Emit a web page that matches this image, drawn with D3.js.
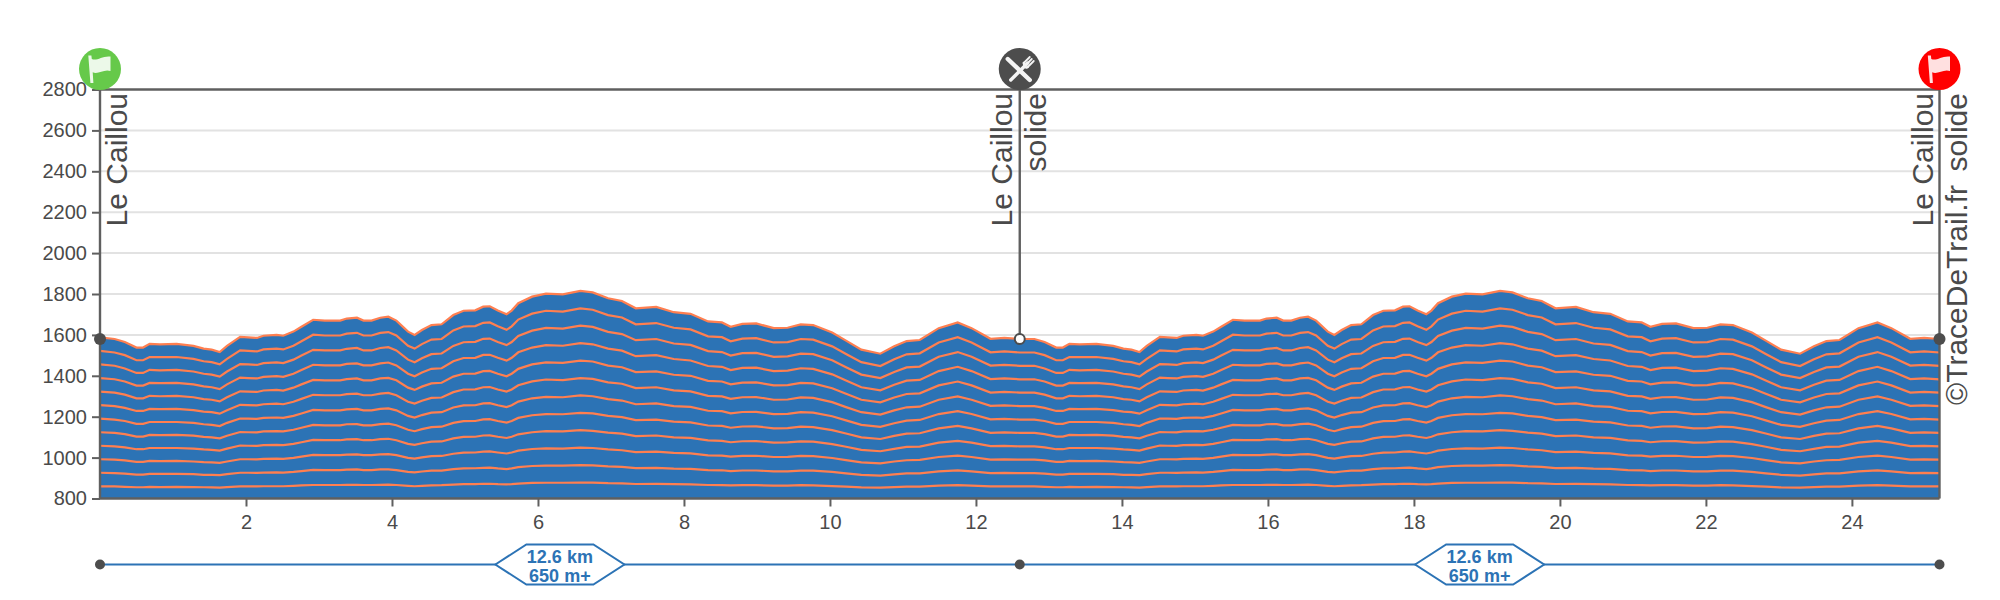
<!DOCTYPE html>
<html><head><meta charset="utf-8">
<script src="https://cdn.jsdelivr.net/npm/d3@7"></script>
<style>html,body{margin:0;padding:0;background:#fff}svg{display:block}text{font-family:"Liberation Sans",Arial,sans-serif}</style>
</head><body><div id="c"></div>
<script>
const lapKm=[0,0.2,0.34,0.5,0.59,0.68,0.82,1.05,1.28,1.42,1.53,1.64,1.74,1.92,2.03,2.15,2.24,2.42,2.51,2.65,2.76,2.92,3.08,3.29,3.38,3.52,3.61,3.72,3.84,3.95,4.06,4.22,4.31,4.41,4.54,4.68,4.84,4.98,5.14,5.25,5.34,5.45,5.57,5.64,5.73,5.92,6.11,6.34,6.58,6.75,6.96,7.15,7.34,7.62,7.86,8.09,8.33,8.52,8.64,8.8,8.99,9.23,9.42,9.6,9.77,10.03,10.22,10.43,10.69,10.88,11.05,11.23,11.49,11.75,11.94,12.2,12.39,12.6];
const elevation=[1588,1580,1565,1538,1538,1556,1554,1556,1546,1533,1528,1516,1546,1590,1588,1585,1596,1600,1596,1616,1640,1674,1670,1670,1680,1684,1670,1670,1684,1689,1670,1616,1600,1624,1648,1652,1697,1718,1720,1738,1740,1719,1701,1719,1755,1787,1802,1798,1815,1808,1779,1766,1730,1737,1711,1703,1666,1661,1640,1654,1656,1633,1635,1651,1648,1612,1572,1528,1508,1544,1570,1575,1633,1661,1633,1581,1585,1580];
const level11=[1522,1514,1501,1476,1476,1492,1491,1492,1483,1471,1467,1456,1483,1524,1522,1519,1529,1533,1529,1547,1569,1601,1597,1597,1606,1610,1597,1597,1610,1614,1597,1547,1533,1555,1577,1580,1622,1641,1643,1659,1661,1642,1625,1642,1675,1704,1718,1714,1730,1723,1697,1685,1652,1658,1635,1627,1593,1589,1569,1582,1584,1563,1565,1580,1577,1544,1507,1467,1448,1481,1505,1510,1563,1589,1563,1515,1519,1514];
const level10=[1456,1449,1436,1414,1414,1429,1427,1429,1421,1410,1406,1396,1421,1457,1456,1453,1462,1466,1462,1479,1499,1527,1524,1524,1532,1536,1524,1524,1536,1540,1524,1479,1466,1486,1506,1509,1546,1564,1566,1581,1582,1565,1550,1565,1595,1621,1634,1631,1645,1639,1615,1604,1574,1580,1558,1551,1521,1516,1499,1511,1512,1493,1495,1508,1506,1476,1442,1406,1389,1419,1441,1445,1493,1516,1493,1450,1453,1449];
const level9=[1389,1383,1372,1352,1352,1365,1364,1365,1358,1348,1344,1335,1358,1391,1389,1387,1395,1398,1395,1410,1428,1454,1451,1451,1458,1461,1451,1451,1461,1465,1451,1410,1398,1416,1434,1437,1471,1487,1488,1502,1503,1488,1474,1488,1515,1538,1550,1547,1560,1554,1533,1523,1496,1501,1482,1475,1448,1444,1428,1439,1440,1423,1425,1437,1434,1407,1377,1344,1329,1356,1376,1380,1423,1444,1423,1384,1387,1383];
const level8=[1323,1318,1308,1290,1290,1302,1300,1302,1295,1286,1283,1275,1295,1324,1323,1321,1328,1331,1328,1342,1358,1380,1378,1378,1384,1387,1378,1378,1387,1390,1378,1342,1331,1347,1363,1366,1396,1410,1411,1423,1424,1410,1398,1410,1434,1456,1466,1463,1474,1470,1450,1442,1418,1422,1405,1400,1375,1372,1358,1367,1368,1353,1354,1365,1363,1339,1312,1283,1270,1294,1311,1314,1353,1372,1353,1318,1321,1318];
const level7=[1257,1252,1243,1228,1228,1238,1237,1238,1232,1225,1222,1215,1232,1258,1257,1255,1261,1264,1261,1273,1287,1307,1305,1305,1310,1313,1305,1305,1313,1316,1305,1273,1264,1278,1292,1294,1320,1333,1334,1344,1345,1333,1323,1333,1354,1373,1382,1379,1389,1385,1368,1361,1340,1344,1329,1324,1302,1299,1287,1295,1296,1283,1284,1294,1292,1271,1247,1222,1210,1231,1246,1249,1283,1299,1283,1253,1255,1252];
const level6=[1191,1186,1179,1165,1165,1174,1174,1174,1170,1163,1160,1154,1170,1191,1191,1189,1194,1196,1194,1204,1216,1233,1231,1231,1236,1238,1231,1231,1238,1241,1231,1204,1196,1208,1220,1222,1245,1255,1256,1265,1266,1256,1247,1256,1274,1290,1297,1295,1304,1300,1286,1279,1261,1265,1252,1248,1229,1227,1216,1223,1224,1213,1214,1222,1220,1202,1182,1160,1150,1168,1181,1184,1213,1227,1213,1187,1189,1186];
const level5=[1124,1121,1115,1103,1103,1111,1110,1111,1107,1101,1099,1094,1107,1125,1124,1123,1128,1129,1128,1136,1146,1160,1158,1158,1163,1164,1158,1158,1164,1166,1158,1136,1129,1139,1149,1151,1170,1178,1179,1187,1188,1179,1171,1179,1194,1207,1213,1212,1219,1216,1204,1198,1183,1186,1176,1172,1157,1155,1146,1152,1153,1143,1144,1151,1149,1134,1118,1099,1091,1106,1117,1119,1143,1155,1143,1121,1123,1121];
const level4=[1058,1055,1050,1041,1041,1047,1047,1047,1044,1040,1038,1034,1044,1059,1058,1057,1061,1062,1061,1067,1075,1087,1085,1085,1089,1090,1085,1085,1090,1092,1085,1067,1062,1070,1078,1079,1094,1101,1102,1108,1109,1102,1096,1102,1114,1124,1129,1128,1134,1131,1122,1117,1105,1108,1099,1096,1084,1082,1075,1080,1081,1073,1074,1079,1078,1066,1053,1038,1031,1043,1052,1054,1073,1082,1073,1056,1057,1055];
const level3=[992,990,986,979,979,984,983,984,981,978,977,974,981,992,992,991,994,995,994,999,1005,1013,1012,1012,1015,1016,1012,1012,1016,1017,1012,999,995,1001,1007,1008,1019,1024,1025,1029,1030,1025,1020,1025,1034,1042,1045,1044,1049,1047,1040,1036,1027,1029,1023,1021,1011,1010,1005,1008,1009,1003,1004,1008,1007,998,988,977,972,981,987,989,1003,1010,1003,990,991,990];
const level2=[926,924,922,917,917,920,920,920,919,916,916,914,919,926,926,925,927,928,927,930,934,940,939,939,941,942,939,939,942,942,939,930,928,932,936,936,944,947,948,950,951,947,944,947,953,959,961,961,963,962,957,955,949,950,946,945,939,938,934,937,937,933,933,936,936,930,923,916,912,918,923,923,933,938,933,924,925,924];
const level1=[859,859,857,855,855,857,856,857,856,855,854,853,856,859,859,859,860,860,860,862,864,866,866,866,867,867,866,866,867,868,866,862,860,862,864,865,868,870,870,872,872,870,869,870,873,876,877,877,878,878,875,874,871,872,870,869,866,865,864,865,865,863,863,865,864,861,858,854,853,856,858,858,863,865,863,859,859,859];
const lapOffsets=[0,12.6];
const yTicks=[800,1000,1200,1400,1600,1800,2000,2200,2400,2600,2800];
const xTicks=[2,4,6,8,10,12,14,16,18,20,22,24];
const stopKm=[0,12.6,25.2];
const stopElevation=[1580,1580,1580];
const segmentKm=[[0,12.6],[12.6,25.2]];
const segmentLabels=[["12.6 km","650 m+"],["12.6 km","650 m+"]];

const W=2000,H=600,L=100,R=1939.5,T=89.5,B=498.5,STRIP=564.5;
const BLUE="#2c73b5",ORANGE="#ff7f50",DARK="#4d4d4d",AXIS="#5f5f5f",TXT="#4a4a4a";
const x=d3.scaleLinear().domain([0,25.2]).range([L,R]);
const y=d3.scaleLinear().domain([800,2800]).range([B,T]);
const svg=d3.select("#c").append("svg").attr("width",W).attr("height",H);

svg.append("g").selectAll("line").data(yTicks.slice(1,-1)).join("line")
 .attr("x1",L).attr("x2",R).attr("y1",d=>y(d)).attr("y2",d=>y(d))
 .attr("stroke","#e2e2e2").attr("stroke-width",2);

// both laps are joined into one path so no seam shows at the turnaround
const pairs=vals=>lapOffsets.flatMap((o,l)=>vals.map((v,i)=>[lapKm[i]+o,v]).slice(l?1:0));
const area=d3.area().x(d=>x(d[0])).y0(B).y1(d=>y(d[1]));
const line=d3.line().x(d=>x(d[0])).y(d=>y(d[1]));
svg.append("path").attr("d",area(pairs(elevation))).attr("fill",BLUE);
[level1,level2,level3,level4,level5,level6,level7,level8,level9,level10,level11,elevation].forEach(v=>{
 svg.append("path").attr("d",line(pairs(v))).attr("fill","none").attr("stroke",ORANGE).attr("stroke-width",2.2);
});

const ya=svg.append("g").attr("transform",`translate(${L},0)`)
 .call(d3.axisLeft(y).tickValues(yTicks).tickFormat(d3.format("d")).tickSize(8).tickPadding(5));
const xa=svg.append("g").attr("transform",`translate(0,${B})`)
 .call(d3.axisBottom(x).tickValues(xTicks).tickFormat(d3.format("d")).tickSize(8).tickPadding(8));
[ya,xa].forEach(g=>{
 g.selectAll("text").attr("font-size",20).attr("fill",TXT).attr("font-family",'"Liberation Sans",Arial,sans-serif');
 g.selectAll("line").attr("stroke",AXIS).attr("stroke-width",2);
 g.select(".domain").remove();
});

const rule=(x1,y1,x2,y2)=>svg.append("line").attr("x1",x1).attr("y1",y1).attr("x2",x2).attr("y2",y2).attr("stroke",AXIS).attr("stroke-width",2.4);
rule(L,T,R,T);rule(L,B,R,B);rule(L,T,L,B);rule(R,T,R,B);
rule(x(12.6),T,x(12.6),y(stopElevation[1]));

const vtext=(tx,top,s)=>svg.append("text").attr("transform",`translate(${tx},${top}) rotate(-90)`)
 .attr("text-anchor","end").attr("font-size",30).attr("fill",TXT).text(s);
vtext(126.7,93,"Le Caillou");
vtext(1012,93,"Le Caillou");
vtext(1045.7,93,"solide");
vtext(1932.7,93,"Le Caillou");
vtext(1967,93,"solide");
vtext(1967,185,"©TraceDeTrail.fr");

stopKm.forEach((k,i)=>{
 svg.append("circle").attr("cx",x(k)).attr("cy",y(stopElevation[i])).attr("r",i==1?5:6)
  .attr("fill",i==1?"#fff":DARK).attr("stroke",DARK).attr("stroke-width",i==1?2:0);
});

const FLAG="M-11.7,-13.5 L-8.6,-13.5 L-8.2,-10 C-3,-7.5 2,-13.5 10.5,-12.5 L10.5,2 C4,-0.5 -2,6 -7.3,3.2 L-6.6,14 L-9.6,14 Z";
[[stopKm[0],"#66c94a"],[stopKm[2],"#ff0000"]].forEach(([k,c])=>{
 const g=svg.append("g").attr("transform",`translate(${x(k)},69)`);
 g.append("circle").attr("r",21).attr("fill",c);
 g.append("path").attr("d",FLAG).attr("fill","#fff").attr("opacity",.88);
});
const mid=svg.append("g").attr("transform",`translate(${x(stopKm[1])},69)`);
mid.append("circle").attr("r",21).attr("fill",DARK);
const ws=(d,w)=>mid.append("path").attr("d",d).attr("stroke","#f4f4f4").attr("stroke-width",w).attr("fill","none").attr("stroke-linecap","round");
ws("M-12,-10 L10,11",4.4);
ws("M-9,11 L8,-6",3.4);
ws("M4,-6 L10,-12",1.8);ws("M6,-4 L12,-10",1.8);ws("M8,-2 L14,-8",1.8);
ws("M4,-6 C5,-1 7,-1 8,-2",2.4);

svg.append("line").attr("x1",x(0)).attr("x2",x(25.2)).attr("y1",STRIP).attr("y2",STRIP).attr("stroke",BLUE).attr("stroke-width",2);
stopKm.forEach(k=>svg.append("circle").attr("cx",x(k)).attr("cy",STRIP).attr("r",5).attr("fill",DARK));
segmentKm.forEach((s,i)=>{
 const c=x((s[0]+s[1])/2);
 const pts=[[-64.5,0],[-33.5,-20],[33.5,-20],[64.5,0],[33.5,20],[-33.5,20]].map(p=>[c+p[0],STRIP+p[1]]);
 svg.append("polygon").attr("points",pts.join(" ")).attr("fill","#fff").attr("stroke",BLUE).attr("stroke-width",2);
 segmentLabels[i].forEach((t,j)=>svg.append("text").attr("x",c).attr("y",562.7+j*19).attr("text-anchor","middle")
  .attr("font-size",18).attr("font-weight","bold").attr("fill",BLUE).text(t));
});
</script></body></html>
